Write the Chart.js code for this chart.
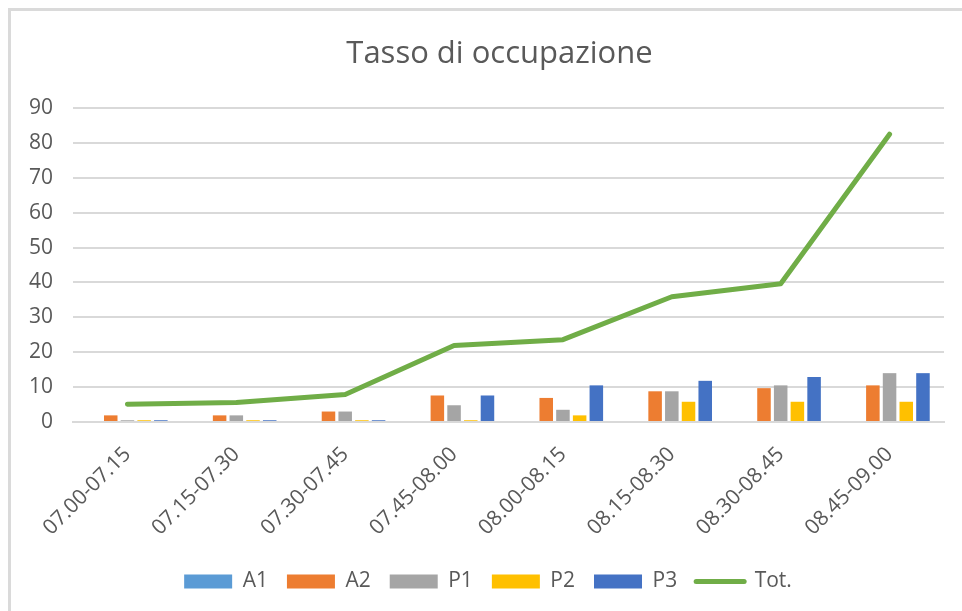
<!DOCTYPE html>
<html>
<head>
<meta charset="utf-8">
<script src="https://cdn.jsdelivr.net/npm/chart.js@4/dist/chart.umd.min.js"></script>
<style>
  html, body { margin: 0; padding: 0; background: #fff; overflow: hidden; }
  #wrap { position: relative; width: 962px; height: 611px; }
  #frame { position: absolute; left: 8px; top: 8px; width: 1100px; height: 800px;
           border-top: 3px solid #dadada; border-left: 3px solid #dadada; box-sizing: border-box; }
  canvas { position: absolute; left: 0; top: 0; }
</style>
</head>
<body>
<div id="wrap">
  <div id="frame"></div>
  <canvas id="c" width="962" height="611"></canvas>
</div>
<script>
const categories = ["07.00-07.15","07.15-07.30","07.30-07.45","07.45-08.00","08.00-08.15","08.15-08.30","08.30-08.45","08.45-09.00"];
const A1  = [0, 0, 0, 0, 0, 0, 0, 0];
const A2  = [1.9, 1.9, 3.0, 7.6, 6.9, 8.8, 9.7, 10.5];
const P1  = [0.5, 1.9, 3.0, 4.8, 3.5, 8.8, 10.5, 14];
const P2  = [0.5, 0.5, 0.5, 0.5, 1.9, 5.8, 5.8, 5.8];
const P3  = [0.5, 0.5, 0.5, 7.6, 10.5, 11.8, 12.9, 14];
const Tot = [5.1, 5.6, 7.9, 21.9, 23.6, 35.9, 39.6, 82.5];
const yTicks = [0, 10, 20, 30, 40, 50, 60, 70, 80, 90];

const FONT = "'Open Sans', sans-serif";
const TXT = '#595959';

const barDs = (label, data, color) => ({
  type: 'bar', label, data, backgroundColor: color, borderWidth: 0, order: 1,
  categoryPercentage: 0.767, barPercentage: 0.81
});

// shift title / legend horizontally to match the (cropped) original chart frame
const blockShift = {
  id: 'blockShift',
  afterLayout(chart) {
    if (chart.titleBlock) { chart.titleBlock.left += 28; }
    if (chart.legend) { chart.legend.left += 5; }
  }
};

new Chart(document.getElementById('c'), {
  data: {
    labels: categories,
    datasets: [
      barDs('A1', A1, '#5B9BD5'),
      barDs('A2', A2, '#ED7D31'),
      barDs('P1', P1, '#A5A5A5'),
      barDs('P2', P2, '#FFC000'),
      barDs('P3', P3, '#4472C4'),
      { type: 'line', label: 'Tot.', data: Tot, borderColor: '#70AD47', backgroundColor: '#70AD47',
        borderWidth: 5, pointRadius: 0, tension: 0, borderCapStyle: 'round', borderJoinStyle: 'round', order: 0 }
    ]
  },
  plugins: [blockShift],
  options: {
    responsive: false,
    animation: false,
    layout: { padding: { left: 27, right: 18, top: 0, bottom: 9 } },
    plugins: {
      tooltip: { enabled: false },
      title: {
        display: true, text: 'Tasso di occupazione', color: TXT,
        font: { family: FONT, size: 31, weight: 'normal' },
        padding: { top: 36, bottom: 34.8 }
      },
      legend: {
        position: 'bottom',
        labels: {
          color: TXT, font: { family: FONT, size: 21 },
          usePointStyle: true, pointStyleWidth: 48, boxHeight: 14, padding: 19,
          sort: (a, b) => a.datasetIndex - b.datasetIndex,
          generateLabels: (chart) => {
            const items = Chart.defaults.plugins.legend.labels.generateLabels(chart);
            items.forEach(it => {
              const ds = chart.data.datasets[it.datasetIndex];
              if (ds.type === 'line') {
                it.pointStyle = 'line'; it.lineWidth = 5; it.strokeStyle = ds.borderColor; it.lineCap = 'round';
              } else {
                it.pointStyle = 'rect'; it.lineWidth = 0; it.fillStyle = ds.backgroundColor;
              }
            });
            return items;
          }
        }
      }
    },
    scales: {
      x: {
        grid: { display: false },
        border: { display: true, color: '#d9d9d9', width: 2 },
        ticks: { color: TXT, font: { family: FONT, size: 21 }, minRotation: 45, maxRotation: 45, autoSkip: false, padding: 12 },
        afterFit: (s) => { s.height = 130; }
      },
      y: {
        min: 0, max: 90,
        grid: { color: '#d9d9d9', lineWidth: 2, drawTicks: false },
        border: { display: false },
        ticks: {
          stepSize: 10, color: TXT, font: { family: FONT, size: 21 }, padding: 20,
          callback: (v) => yTicks.includes(v) ? String(v) : ''
        },
        afterFit: (s) => { s.width = 46; }
      }
    }
  }
});
</script>
</body>
</html>
